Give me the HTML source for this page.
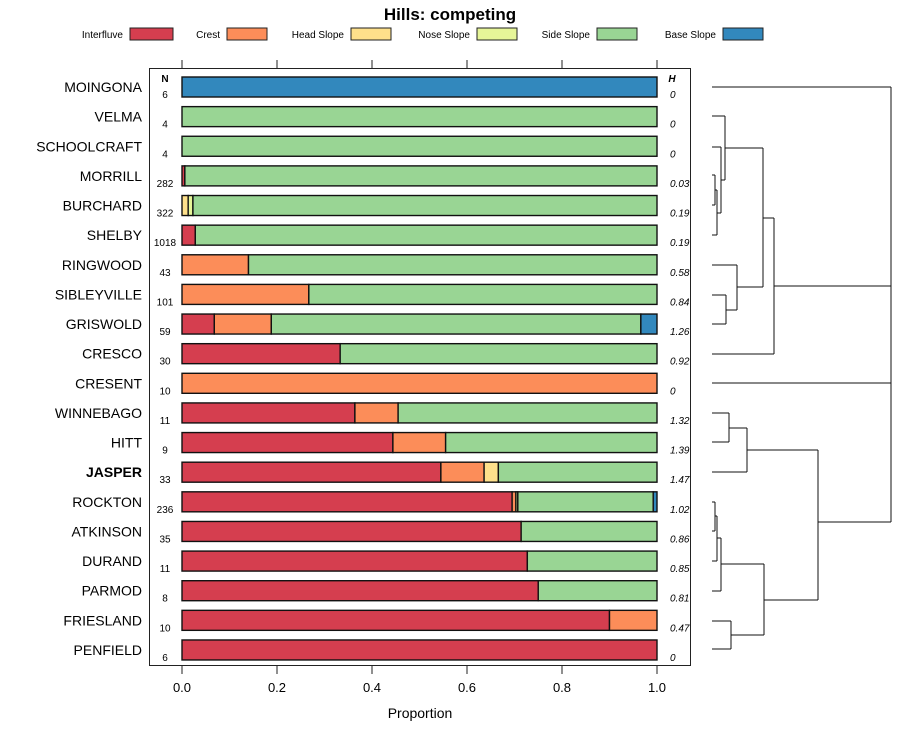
<!DOCTYPE html>
<html><head><meta charset="utf-8"><style>
body{margin:0;background:#fff;}
svg text{font-family:"Liberation Sans",sans-serif;}
</style></head><body>
<svg id="chart" width="900" height="740" xmlns="http://www.w3.org/2000/svg"></svg>
<script>
const classes=["Interfluve","Crest","Head Slope","Nose Slope","Side Slope","Base Slope"];
const colors=["#D53E4F","#FC8D59","#FEE08B","#E6F598","#99D594","#3288BD"];
const soils=["MOINGONA","VELMA","SCHOOLCRAFT","MORRILL","BURCHARD","SHELBY","RINGWOOD","SIBLEYVILLE","GRISWOLD","CRESCO","CRESENT","WINNEBAGO","HITT","JASPER","ROCKTON","ATKINSON","DURAND","PARMOD","FRIESLAND","PENFIELD"];
const interfluve=[0,0,0,0.006,0,0.028,0,0,0.068,0.333,0,0.364,0.444,0.545,0.695,0.714,0.727,0.75,0.9,1];
const crest=[0,0,0,0,0,0,0.14,0.267,0.12,0,1,0.091,0.111,0.091,0.008,0,0,0,0.1,0];
const headSlope=[0,0,0,0,0.013,0,0,0,0,0,0,0,0,0.03,0,0,0,0,0,0];
const noseSlope=[0,0,0,0,0.01,0,0,0,0,0,0,0,0,0,0.004,0,0,0,0,0];
const sideSlope=[0,1,1,0.994,0.977,0.972,0.86,0.733,0.778,0.667,0,0.545,0.445,0.334,0.285,0.286,0.273,0.25,0,0];
const baseSlope=[1,0,0,0,0,0,0,0,0.034,0,0,0,0,0,0.008,0,0,0,0,0];
const nCounts=[6,4,4,282,322,1018,43,101,59,30,10,11,9,33,236,35,11,8,10,6];
const hValues=["0","0","0","0.03","0.19","0.19","0.58","0.84","1.26","0.92","0","1.32","1.39","1.47","1.02","0.86","0.85","0.81","0.47","0"];
const xTicks=[0,0.2,0.4,0.6,0.8,1.0];
const series=[interfluve,crest,headSlope,noseSlope,sideSlope,baseSlope];

const svg=document.getElementById('chart');
const NS="http://www.w3.org/2000/svg";
function mk(tag,attrs,parent){const e=document.createElementNS(NS,tag);for(const k in attrs)e.setAttribute(k,attrs[k]);(parent||svg).appendChild(e);return e;}
const xS=v=>182+v*475;
const yS=i=>87+i*29.63;

let t=mk('text',{x:450,y:20,'text-anchor':'middle','font-size':17,'font-weight':'bold'});t.textContent="Hills: competing";

const legX=[130,227,351,477,597,723];
classes.forEach((c,i)=>{
  const g=mk('g',{});
  
  
  const tx=mk('text',{x:legX[i]-7,y:38,'text-anchor':'end','font-size':10},g);tx.textContent=c;
  mk('rect',{x:legX[i],y:28,width:i==0?43:40,height:12,fill:colors[i],stroke:'#222','stroke-width':1},g);
});
const panel=mk('rect',{x:149.5,y:68.5,width:541,height:597,fill:'none',stroke:'#222','stroke-width':1});

xTicks.forEach(v=>{
  const x=xS(v);
  mk('line',{x1:x,x2:x,y1:60,y2:68,stroke:'#222'});
  mk('line',{x1:x,x2:x,y1:666,y2:674,stroke:'#222'});
  const tl=mk('text',{x:x,y:692,'text-anchor':'middle','font-size':13});tl.textContent=v.toFixed(1);
  
});
let xl=mk('text',{x:420,y:718,'text-anchor':'middle','font-size':14});xl.textContent="Proportion";

let nh=mk('text',{x:165,y:82,'text-anchor':'middle','font-size':10,'font-weight':'bold'});nh.textContent="N";

let hh=mk('text',{x:672,y:82,'text-anchor':'middle','font-size':10,'font-weight':'bold','font-style':'italic'});hh.textContent="H";

soils.forEach((s,i)=>{
  const y=yS(i);
  const lab=mk('text',{x:142,y:y+5,'text-anchor':'end','font-size':14,'font-weight':s==="JASPER"?'bold':'normal'});lab.textContent=s;
  
  const nt=mk('text',{x:165,y:y+11,'text-anchor':'middle','font-size':10});nt.textContent=nCounts[i];
  
  const ht=mk('text',{x:670,y:y+11,'font-size':10,'font-style':'italic'});ht.textContent=hValues[i];
  
  let cum=0;
  series.forEach((arr,k)=>{
    const v=arr[i];
    if(v>0){
      const r=mk('rect',{x:xS(cum),y:y-10,width:xS(cum+v)-xS(cum),height:20,fill:colors[k],stroke:'#111','stroke-width':1.4});
      
    }
    cum+=v;
  });
});
const dg=mk('g',{stroke:'#111','stroke-width':1,fill:'none'});

const segs=[
[712,116,725,116],[712,147,721,147],[712,175,715,175],[712,205,715,205],[712,235,717,235],
[715,175,715,205],[715,190,717,190],[717,190,717,235],[717,213,721,213],[721,147,721,213],[721,180,725,180],
[725,116,725,180],[725,148,763,148],
[712,265,737,265],[712,295,726,295],[712,324,726,324],[726,295,726,324],[726,310,737,310],[737,265,737,310],[737,287,763,287],
[763,148,763,287],[763,218,774,218],[712,354,774,354],[774,218,774,354],[774,286,891,286],
[712,87,891,87],[712,383,891,383],[891,87,891,522],
[712,413,729,413],[712,442,729,442],[729,413,729,442],[729,428,747,428],[712,472,747,472],[747,428,747,472],[747,450,818,450],
[712,502,715,502],[712,531,715,531],[715,502,715,531],[715,516,717,516],[712,561,717,561],[717,516,717,561],[717,538,721,538],
[712,591,721,591],[721,538,721,591],[721,564,764,564],[712,621,731,621],[712,649,731,649],[731,621,731,649],[731,635,764,635],
[764,564,764,635],[764,600,818,600],[818,450,818,600],[818,522,891,522]
];
segs.forEach(s=>mk('line',{x1:s[0],y1:s[1],x2:s[2],y2:s[3]},dg));
</script>
</body></html>
